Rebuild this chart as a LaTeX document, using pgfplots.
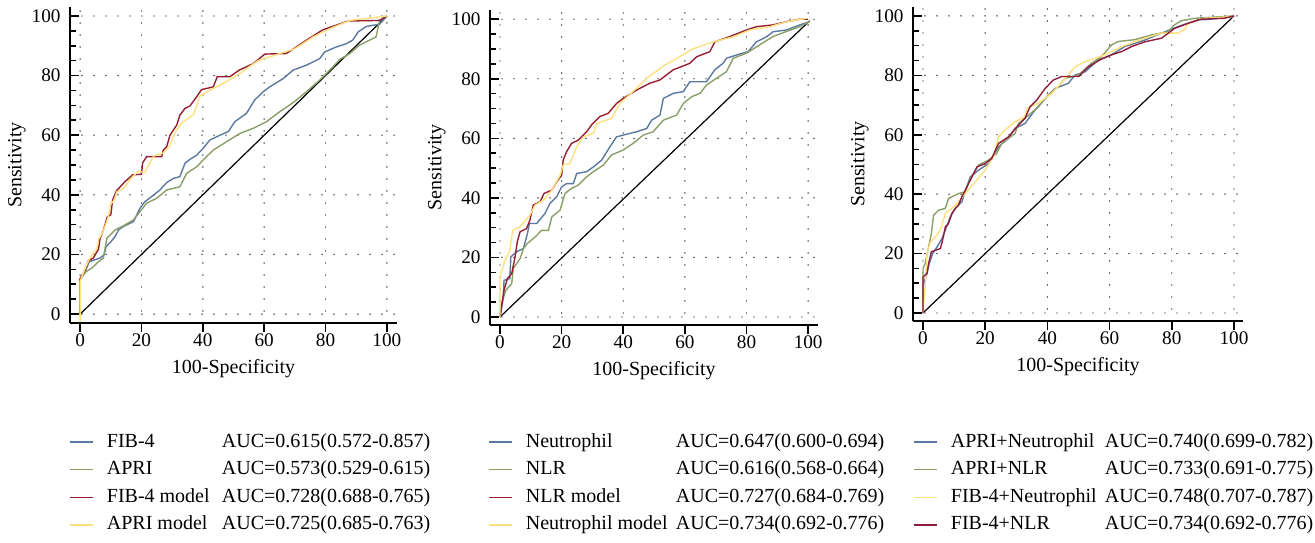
\documentclass[border=0pt]{standalone}
\usepackage{fontspec}
\setmainfont{Liberation Serif}
\usepackage{pgfplots}
\pgfplotsset{compat=1.18}

\definecolor{cblue}{HTML}{5B78A0}
\definecolor{cgreen}{HTML}{8A9F68}
\definecolor{cred}{HTML}{961E32}
\definecolor{cyellow}{HTML}{FFE07E}
\definecolor{cplum}{HTML}{8E1E3C}

\pgfplotsset{
  rocax/.style={
    scale only axis,
    axis x line*=bottom, axis y line*=left,
    axis line style={-, line width=1pt},
    xmin=-3.3, xmax=103.3, ymin=-3, ymax=103,
    xtick={0,20,...,100}, ytick={0,20,...,100},
    minor y tick num=3,
    tick align=inside,
    major tick length=4.3pt, minor tick length=2.8pt,
    tick style={black, line width=0.8pt},
    major x tick style={yshift=-4.3pt},
    grid=major,
    grid style={black, line width=0.7pt, line cap=round, dash pattern=on 0pt off 6pt},
    /pgf/number format/assume math mode=true,
    tick label style={font=\fontsize{9.6pt}{11pt}\selectfont},
    xticklabel style={yshift=-2pt},
    yticklabel style={xshift=-1.2pt},
    xlabel={100-Specificity}, ylabel={Sensitivity},
    xlabel style={at={(axis description cs:0.5,0)}, anchor=base, yshift=-25pt},
    ylabel style={at={(axis description cs:0,0.5)}, anchor=center, rotate=0, yshift=26.5pt},
    legend cell align=left,
    legend style={at={(0,0)}, anchor=north west, draw=none, fill=none,
      inner sep=0pt, row sep=3.83pt,
      nodes={inner sep=0pt, text height=7.5pt, text depth=2.5pt}},
    legend image code/.code={\draw[#1, line width=0.8pt] (0pt,0pt) -- (11.5pt,0pt); \path (18pt,0pt);},
    every axis plot/.append style={line width=0.7pt},
  },
  step/.style={sharp plot},
}

\begin{document}
\begin{tikzpicture}
\useasboundingbox (0,0) rectangle (657.5pt,-271pt);

% panel 1
\begin{axis}[rocax, at={(35pt,-161.5pt)}, anchor=south west,
  width=163.5pt, height=158pt,
  legend style={xshift=-0.5pt, yshift=-54.3pt}]
\addplot[black, forget plot, line width=0.6pt] coordinates {(0,0)(100,100)};
\addplot[cblue, step] coordinates {
(0,0)(0,12)(1.5,14)(3,17.6)(6.5,18.8)(7.8,19.9)(8.5,22.7)(9.8,24)(11.4,26)(12.5,28.2)
(14.1,29.4)(17.4,31)(19.5,35.5)(21.1,37.7)(23.3,39.4)(26,41.6)(28.2,44.1)(30.4,45.5)
(32.5,46.1)(34.2,50.6)(35.8,51.9)(38,53.3)(40.1,55.6)(42.3,58.4)(45.6,60)(48.3,61.2)
(50.4,64.5)(54.2,67.3)(56.9,71.8)(59.7,74.6)(61.8,76.2)(66.2,79)(69.4,81.8)(73.8,83.5)
(78.1,85.7)(79.7,87.9)(83.5,89.6)(86.8,90.7)(88.9,91.9)(90.6,94.6)(93.3,96.5)(97.6,97.2)(100,100)};
\addlegendentry{\makebox[57.5pt][l]{FIB-4}AUC=0.615(0.572-0.857)}
\addplot[cgreen, step] coordinates {
(0,0)(0,11.5)(2,14.3)(3.8,15.4)(6,17.6)(7.6,18.8)(8.7,25.4)(11.4,28.2)(14.6,29.9)(17.4,31.6)
(21.7,37.2)(24.9,38.8)(28.2,41.6)(32.5,42.7)(34.7,47.2)(38,49.4)(40.1,51.7)(43.4,55)
(47.7,57.8)(52.1,60.6)(56.4,62.3)(60.7,64.5)(65.1,67.9)(69.4,70.9)(73.8,74.6)(78.1,78.5)
(82.4,82.9)(84.6,85.4)(87.9,87.4)(91.1,90.2)(94.4,91.9)(96.5,93)(97.6,98.5)(100,100)};
\addlegendentry{\makebox[57.5pt][l]{APRI}AUC=0.573(0.529-0.615)}
\addplot[cred, step] coordinates {
(0,0)(0,11.7)(1.6,14.8)(2.7,17.9)(4.3,18.8)(6,21.8)(6.5,25.4)(7.6,28.2)(8.9,32.7)(10,33.3)
(10.6,38.3)(11.9,41.4)(14.6,44.4)(17.1,46.7)(20,46.9)(20.4,50.8)(21.7,52.8)(26.6,52.8)
(27.1,55)(28.2,56.1)(29.3,60)(31.5,63.4)(32.5,66.7)(34.2,69)(35.8,69.8)(38,72.9)(39.6,75.3)
(43.4,76.2)(44.7,79.6)(48.8,79.6)(51.8,81.8)(56.4,84)(60.2,87.2)(67.2,87.4)(70.5,89.6)
(73.8,91.9)(79.2,95.4)(83.5,96.9)(87.3,98.3)(97.6,98.5)(100,100)};
\addlegendentry{\makebox[57.5pt][l]{FIB-4 model}AUC=0.728(0.688-0.765)}
\addplot[cyellow] coordinates {
(0,-2.5)(0,11)(1.5,15)(3,18.5)(5.5,22)(6,25)(7.6,28)(9,32)(10,37)(11,38)(12,41)(14,42)
(17,46)(19,48)(21,47.5)(24,53)(27,54)(29,56)(31,61)(33,64)(37,67)(39,73)(42,75)(46,77)
(51,80)(58,85)(64,87)(70,89)(76,93)(82,96)(88,98.5)(100,100)};
\addlegendentry{\makebox[57.5pt][l]{APRI model}AUC=0.725(0.685-0.763)}
\end{axis}

% panel 2
\begin{axis}[rocax, at={(245pt,-162.5pt)}, anchor=south west,
  width=164pt, height=157.5pt, xmin=-3.25, xmax=103.2, ymin=-2.7, ymax=103.1,
  legend style={xshift=-1pt, yshift=-53.3pt}]
\addplot[black, forget plot, line width=0.6pt] coordinates {(0,0)(100.5,99.5)};
\addplot[cblue, step] coordinates {
(0,0)(1.1,6.7)(1.3,12.3)(3.2,12.9)(3.5,20.2)(5.4,21.9)(7.6,23)(8.9,28)(9.5,31.4)(11.9,31.4)
(14.6,34.8)(16.2,38.1)(18.4,40.4)(20,43.7)(21.6,44.8)(23.8,44.8)(24.9,48.2)(28.1,48.8)
(30.3,50.4)(33,52.7)(35.7,57.2)(37.8,60.5)(40,61.1)(44.3,62.2)(47.6,63.3)(49.2,66.1)
(51.9,67.8)(53,73.4)(56.2,75.1)(59.5,75.7)(61.6,79)(67,79)(69.7,83)(72.4,85.2)(73.5,86.9)
(76.8,88)(80.5,89.1)(83.2,92.4)(86.5,94.1)(88.6,95.8)(93,96.4)(97.3,98.1)(100.5,99.2)};
\addlegendentry{\makebox[75pt][l]{Neutrophil}AUC=0.647(0.600-0.694)}
\addplot[cgreen, step] coordinates {
(0,0)(0.5,4.5)(1.9,9)(3.8,11.2)(4.3,16.3)(6.5,19.6)(7.6,23)(8.9,24.7)(11.4,26.9)(13.5,29.1)
(15.7,29.1)(16.8,33.6)(19.5,35.9)(21.1,41.5)(23.2,43.2)(25.4,44.3)(28.1,47.1)(30.3,48.8)
(33.5,51)(36.2,54.4)(40,56.1)(43.2,58.3)(46.5,61.1)(49.7,62.2)(53,66.1)(57.3,67.8)
(59.5,71.7)(62.2,74)(64.9,75.1)(67,77.9)(70.3,80.2)(73.5,82.4)(75.7,86.9)(80,88.6)
(84.3,91.4)(88.6,94.2)(93,95.9)(97.3,97.5)(100.5,99.2)};
\addlegendentry{\makebox[75pt][l]{NLR}AUC=0.616(0.568-0.664)}
\addplot[cred, step] coordinates {
(0,0)(1.3,9)(2.4,12.9)(3.8,14.6)(4.9,20.2)(5.6,25.2)(6.5,28.6)(8.6,29.7)(9.7,32.5)(10.8,37.6)
(13,38.7)(14.3,41.5)(16.8,42.6)(18.4,45.4)(20,47.6)(20.5,52.7)(21.6,55.5)(23.2,58.3)
(25.4,59.4)(28.1,62.2)(29.7,64.5)(32.4,67.3)(35.1,68.4)(37.8,71.7)(40,73.4)(44.3,76.2)
(48.6,78.5)(51.9,79.6)(56.2,83)(61.6,85.2)(63.8,87.4)(68.1,89.1)(69.7,92.4)(74.6,94.2)
(80,96.4)(83.2,97.5)(88.6,98.1)(93,99.2)(97.3,100)(100,100)};
\addlegendentry{\makebox[75pt][l]{NLR model}AUC=0.727(0.684-0.769)}
\addplot[cyellow] coordinates {
(0,0)(0,13.5)(1.6,19)(3.2,22.4)(4.1,29.1)(6.5,30.3)(9.7,34.2)(11.4,37.6)(14.1,39.2)
(16.8,42.6)(19.5,47.6)(20.5,51)(22.7,51.6)(24.9,57.2)(27,60.5)(30.3,61.7)(31.4,65)
(36.2,66.7)(38.9,71.7)(44.3,76.8)(47.6,80.2)(53.5,84.6)(57.3,86.8)(62.7,90.1)(69.2,92.4)
(75.7,94.1)(81.1,96.4)(87.6,97.5)(93,99.2)(99.5,100.3)};
\addlegendentry{\makebox[75pt][l]{Neutrophil model}AUC=0.734(0.692-0.776)}
\end{axis}

% panel 3
\begin{axis}[rocax, at={(456.5pt,-160.5pt)}, anchor=south west,
  width=165pt, height=157pt, xmin=-3.2, xmax=102.9, ymin=-2.7, ymax=103,
  legend style={yshift=-55.3pt}]
\addplot[black, forget plot, line width=0.6pt] coordinates {(0,0)(100,100)};
\addplot[cblue, step] coordinates {
(0,0)(0.2,9.9)(1.3,13.3)(2,16.6)(3.1,20)(4.5,22.2)(6.1,25)(7.2,27.9)(8.8,32.4)(10.4,35.2)
(12.5,37.4)(15.2,45.8)(17.9,48.1)(21.1,50.3)(24.3,56)(27.5,58.8)(29.6,62.1)(32.8,63.8)
(36,68.3)(39.3,72.2)(42.5,75.6)(46.7,77.3)(48.9,80.1)(52.1,81.2)(56.4,85.2)(60.6,86.9)
(64.9,89.7)(71.4,91.9)(76.7,94.2)(82,96.4)(88.4,98.7)(90.6,98.7)(100,99.8)};
\addlegendentry{\makebox[77pt][l]{APRI+Neutrophil}AUC=0.740(0.699-0.782)}
\addplot[cgreen, step] coordinates {
(0,0)(0,15)(0.7,16.6)(1.8,22.2)(2.7,26.7)(3.4,32.9)(5,34.6)(7.2,35.2)(8.2,38.5)(11.4,40.2)
(13.6,40.8)(15.2,45.3)(17.9,49.8)(21.1,51.5)(23.7,53.7)(25.3,57.1)(29.6,60.4)(30.7,63.8)
(34,66.6)(37.1,69.4)(40.3,73.4)(43.5,76.2)(45.7,79)(50,80.1)(54.2,84.1)(57.4,86.3)
(60.6,90.2)(62.8,91.4)(68.1,92)(73.5,93.6)(78.8,94.7)(80.9,97)(83.1,98.4)(87.4,99.2)(100,100)};
\addlegendentry{\makebox[77pt][l]{APRI+NLR}AUC=0.733(0.691-0.775)}
\addplot[cyellow] coordinates {
(0,0)(0.8,10)(1.3,20)(2.4,23.9)(4,25.6)(5.6,27.9)(7.2,33.5)(10.4,36.3)(13.6,40.2)(16.8,44.2)
(20,48.1)(22.7,52.6)(24.3,59.3)(26.4,61.6)(29.6,64.4)(32.8,66.1)(33.4,68.9)(37.1,70.6)
(41.4,73.9)(46.7,80.1)(48.9,82.9)(52.1,84.6)(58.5,86.9)(63.9,89.7)(71.4,92.5)(76.7,94.2)
(82,94.2)(84.2,95.5)(85.2,97.5)(90.6,99.2)(100,99.8)};
\addlegendentry{\makebox[77pt][l]{FIB-4+Neutrophil}AUC=0.748(0.707-0.787)}
\addplot[cplum, step] coordinates {
(0,0)(0,12.1)(1.3,13.3)(1.8,16.6)(2.7,20.6)(4,21.1)(5.6,21.7)(6.3,24.5)(7.2,29)(8.2,30.1)
(9.3,33.5)(10.4,35.2)(11.4,36.3)(12.5,39.1)(15.2,44.7)(17.4,49.2)(20,50.3)(22.1,52)
(24.3,57.1)(27.5,59.3)(30.2,62.7)(32.8,65.5)(34.4,69.4)(36.6,71.7)(39.3,75.6)(41.9,78.4)
(44.6,79.6)(50,79.6)(53.2,82.9)(56.9,85.2)(60.6,86.9)(63.9,88)(67.1,89.7)(71.4,91.3)
(76.7,92.5)(80.9,95.8)(85.2,97.5)(89.5,98.9)(96.8,99.2)(100,100)};
\addlegendentry{\makebox[77pt][l]{FIB-4+NLR}AUC=0.734(0.692-0.776)}
\end{axis}
\end{tikzpicture}
\end{document}
